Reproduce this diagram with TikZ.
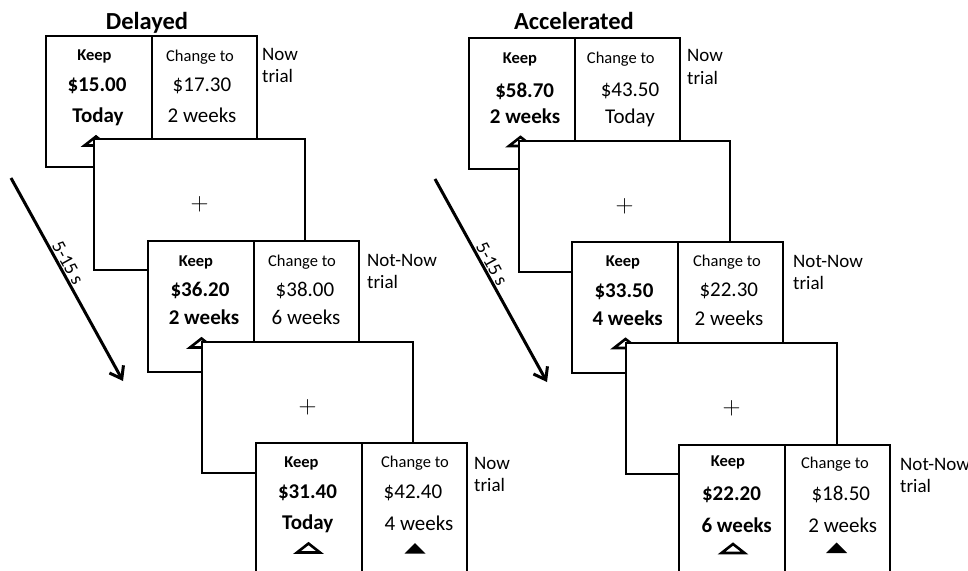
\documentclass[tikz,border=0pt]{standalone}
\usepackage{fontspec}
\setmainfont{Carlito}
\usetikzlibrary{arrows.meta}
\tikzset{
  screen/.style={draw, line width=2pt, fill=white, minimum width=211pt, minimum height=131pt, inner sep=0pt, anchor=north west},
  fixscreen/.style={screen, font=\fontsize{24}{24}\selectfont},
  divider/.style={line width=2pt},
  hdr/.style={inner sep=0pt, font=\fontsize{16.5}{18}\selectfont},
  hdrb/.style={inner sep=0pt, font=\bfseries\fontsize{16.5}{18}\selectfont},
  val/.style={inner sep=0pt, font=\fontsize{21}{24}\selectfont},
  valb/.style={inner sep=0pt, font=\bfseries\fontsize{21}{24}\selectfont},
  triallbl/.style={inner sep=0pt, anchor=west, align=left, font=\fontsize{19}{22.5}\selectfont},
  ttl/.style={inner sep=0pt, anchor=base, font=\bfseries\fontsize{24.5}{28}\selectfont},
  timearrow/.style={line width=3pt, -{Straight Barb[length=11pt,width=16pt]}},
  timelbl/.style={sloped, above, inner sep=1pt, font=\fontsize{19}{20}\selectfont},
  opentri/.pic={\draw[line width=2.6pt] (-11.5,0) -- (11.5,0) -- (0,-9) -- cycle;},
  filltri/.pic={\fill (-10.5,0) -- (10.5,0) -- (0,-10.5) -- cycle;}
}
\begin{document}
\begin{tikzpicture}[x=1pt,y=-1pt]
\useasboundingbox (0,0) rectangle (968,570);
\clip (0,0) rectangle (968,570);

% titles
\node[ttl] (t1) at (147,29.5) {Delayed};
\node[ttl] (t2) at (574,29.5) {Accelerated};

% time arrows
\coordinate (a1s) at (11,178);
\coordinate (a1e) at (123,381);
\draw[timearrow] (a1s) -- (a1e) node[timelbl, pos=0.44] (a1l) {5-15 s};
\coordinate (a2s) at (435,179);
\coordinate (a2e) at (547,382);
\draw[timearrow] (a2s) -- (a2e) node[timelbl, pos=0.44] (a2l) {5-15 s};

% ================= Delayed =================
% screen 1
\node[screen] (L1) at (45,35) {};
\draw[divider] (L1.north) -- (L1.south);
\node[hdrb] (L1k) at (94.5,56.5) {Keep};
\node[valb] (L1ka) at (97,86) {\$15.00};
\node[valb] (L1kd) at (98,116.5) {Today};
\node[hdr] (L1c) at (200,57) {Change to};
\node[val] (L1ca) at (202,86) {\$17.30};
\node[val] (L1cd) at (202,115.5) {2 weeks};
\node[triallbl] (L1t) at (262,65.5) {Now\\trial};
\pic at (96,145.5) {opentri};
% fixation 1
\node[fixscreen] (LF1) at (93,138) {$+$};
% screen 2
\node[screen] (L2) at (147,240) {};
\draw[divider] (L2.north) -- (L2.south);
\node[hdrb] (L2k) at (196,262.5) {Keep};
\node[valb] (L2ka) at (200,290) {\$36.20};
\node[valb] (L2kd) at (204,317.5) {2 weeks};
\node[hdr] (L2c) at (302,262) {Change to};
\node[val] (L2ca) at (305,290) {\$38.00};
\node[val] (L2cd) at (306,317.5) {6 weeks};
\node[triallbl] (L2t) at (367,271.5) {Not-Now\\trial};
\pic at (201.5,347.5) {opentri};
% fixation 2
\node[fixscreen] (LF2) at (201,341) {$+$};
% screen 3
\node[screen] (L3) at (255,442) {};
\draw[divider] (L3.north) -- (L3.south);
\node[hdrb] (L3k) at (301.5,463.7) {Keep};
\node[valb] (L3ka) at (307.5,493) {\$31.40};
\node[valb] (L3kd) at (307.7,523.3) {Today};
\node[hdr] (L3c) at (415,463.5) {Change to};
\node[val] (L3ca) at (413,493) {\$42.40};
\node[val] (L3cd) at (419,523.3) {4 weeks};
\node[triallbl] (L3t) at (474,474.5) {Now\\trial};
\pic at (308.5,552.5) {opentri};
\pic at (415,553.5) {filltri};

% ================= Accelerated =================
% screen 1
\node[screen] (R1) at (468,37) {};
\draw[divider] (R1.north) -- (R1.south);
\node[hdrb] (R1k) at (520,59.3) {Keep};
\node[valb] (R1ka) at (524.7,91) {\$58.70};
\node[valb] (R1kd) at (525,116) {2 weeks};
\node[hdr] (R1c) at (620.8,58.7) {Change to};
\node[val] (R1ca) at (630,91) {\$43.50};
\node[val] (R1cd) at (630,117.7) {Today};
\node[triallbl] (R1t) at (687,67) {Now\\trial};
\pic at (520.5,146) {opentri};
% fixation 1
\node[fixscreen] (RF1) at (518,140) {$+$};
% screen 2
\node[screen] (R2) at (571,241) {};
\draw[divider] (R2.north) -- (R2.south);
\node[hdrb] (R2k) at (623,262.7) {Keep};
\node[valb] (R2ka) at (624,291.3) {\$33.50};
\node[valb] (R2kd) at (627.7,318.3) {4 weeks};
\node[hdr] (R2c) at (727,261.7) {Change to};
\node[val] (R2ca) at (728.8,291.3) {\$22.30};
\node[val] (R2cd) at (729,318.3) {2 weeks};
\node[triallbl] (R2t) at (793,272.5) {Not-Now\\trial};
\pic at (625.5,348) {opentri};
% fixation 2
\node[fixscreen] (RF2) at (625,342) {$+$};
% screen 3
\node[screen] (R3) at (678,444) {};
\draw[divider] (R3.north) -- (R3.south);
\node[hdrb] (R3k) at (728,462.3) {Keep};
\node[valb] (R3ka) at (731.5,494.7) {\$22.20};
\node[valb] (R3kd) at (736.7,524.8) {6 weeks};
\node[hdr] (R3c) at (835,464.3) {Change to};
\node[val] (R3ca) at (840.8,494.7) {\$18.50};
\node[val] (R3cd) at (842.8,525) {2 weeks};
\node[triallbl] (R3t) at (900,475.5) {Not-Now\\trial};
\pic at (733,553) {opentri};
\pic at (836.5,553) {filltri};
\end{tikzpicture}
\end{document}
